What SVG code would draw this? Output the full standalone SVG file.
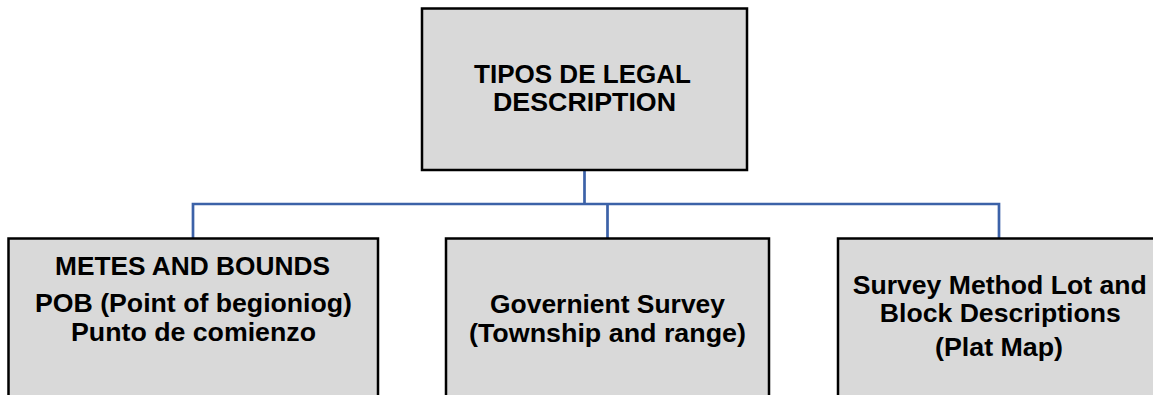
<svg xmlns="http://www.w3.org/2000/svg" width="1153" height="395" viewBox="0 0 1153 395">
<style>
.box{fill:#d9d9d9;stroke:#000;stroke-width:2.5}
.t{font-family:"Liberation Sans",Arial,sans-serif;font-weight:bold;font-size:25.5px;fill:#000;text-anchor:middle}
.c{fill:none;stroke:#3c62a8;stroke-width:2.7}
</style>
<rect width="1153" height="395" fill="#fff"/>
<g id="connectors">
<path class="c" d="M584.5,171 V204 M193,238 V204 H999 V238 M607.5,204 V238"/>
</g>
<g id="root">
<rect class="box" x="422" y="8.5" width="325" height="161.5"/>
<text class="t" x="582.5" y="83" textLength="217" lengthAdjust="spacingAndGlyphs">TIPOS DE LEGAL</text>
<text class="t" x="584.5" y="111" textLength="183" lengthAdjust="spacingAndGlyphs">DESCRIPTION</text>
</g>
<g id="metes">
<rect class="box" x="8.5" y="238.5" width="369.5" height="170"/>
<text class="t" x="192.5" y="275" textLength="275" lengthAdjust="spacingAndGlyphs">METES AND BOUNDS</text>
<text class="t" x="193.5" y="312" textLength="317" lengthAdjust="spacingAndGlyphs">POB (Point of begioniog)</text>
<text class="t" x="193.5" y="341" textLength="245" lengthAdjust="spacingAndGlyphs">Punto de comienzo</text>
</g>
<g id="government">
<rect class="box" x="446" y="238.5" width="323" height="170"/>
<text class="t" x="607.5" y="313" textLength="235" lengthAdjust="spacingAndGlyphs">Governient Survey</text>
<text class="t" x="607.5" y="341.5" textLength="277" lengthAdjust="spacingAndGlyphs">(Township and range)</text>
</g>
<g id="lotblock">
<rect class="box" x="838" y="238.5" width="323" height="170"/>
<text class="t" x="999.7" y="294" textLength="294" lengthAdjust="spacingAndGlyphs">Survey Method Lot and</text>
<text class="t" x="1000.3" y="322" textLength="241" lengthAdjust="spacingAndGlyphs">Block Descriptions</text>
<text class="t" x="999" y="356" textLength="128" lengthAdjust="spacingAndGlyphs">(Plat Map)</text>
</g>
</svg>
